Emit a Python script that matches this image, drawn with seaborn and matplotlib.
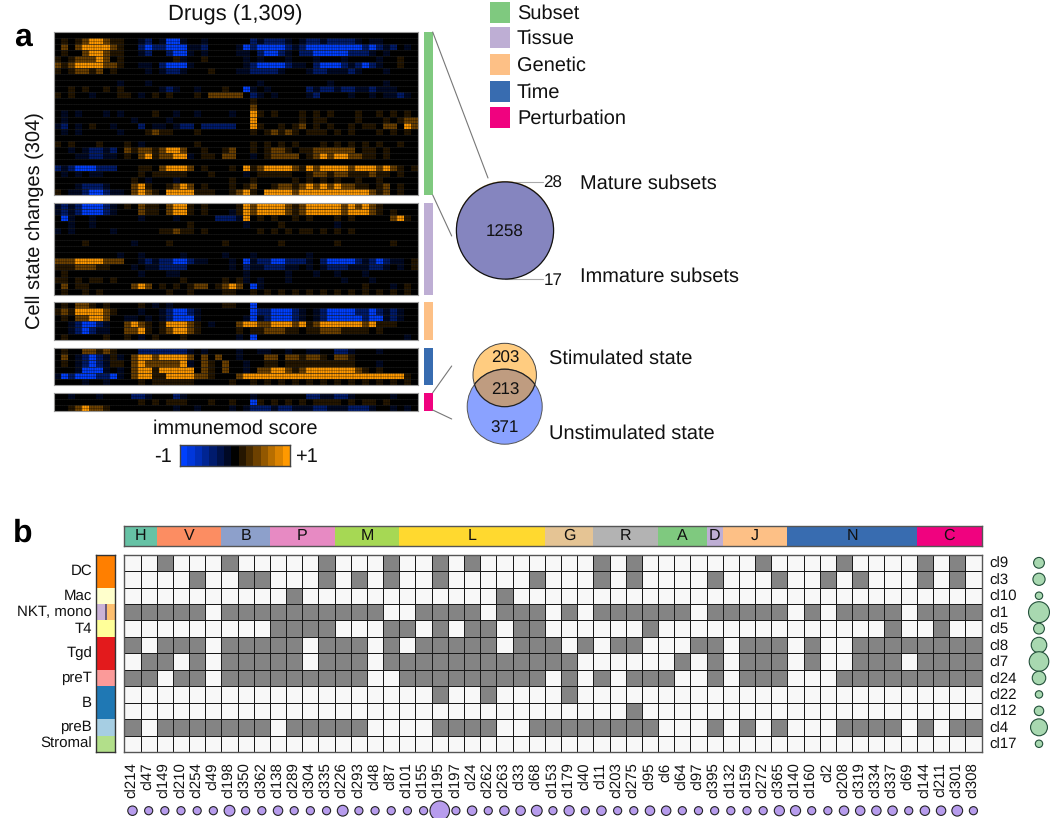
import numpy as np
import pandas as pd
import seaborn as sns
import matplotlib.pyplot as plt
from matplotlib.colors import ListedColormap
from matplotlib.patches import Circle, Rectangle

W, H = 1050, 818

# ---- panel a: coarse reading of the immunemod scores, one string per row
# B/b/n = strong/mid/faint negative, O/o/r = strong/mid/faint positive
score_codes = {'B': -0.9, 'b': -0.45, 'n': -0.16, '.': 0.0, 'r': 0.16, 'o': 0.45, 'O': 0.88}

subset_rows = [
    "....................................................",
    ".r.roOOorr..nb.nBBn..n......bnbbbn.nbbnbbbbn.nn.....",
    ".o.oOOOOor..bBbbBBBnnb....nBbBBBBbnbBBBBBBBBbBbnb.n.",
    ".r..oOOorr..nb..bBBn.n....nn.bBBbn.bbBBBBBbbbn.n....",
    "r.roooOo.r.......rn..r.....n.n...n...n...n....n..r..",
    "oroOOOOoor..nn.bBBBn.......nbBBBBbnn.bBBBbnbBbn..r..",
    "r.rooro.r....n.nbbn...r...nnbbbbn...nbbnnnbn...n....",
    "....................................................",
    ".........n...n...............n.........n.......n....",
    "..r.r..r.r.....nbn..n...r..Bn.n.....bnbbnbbnnbnnn...",
    "r.r..n...rr.n.r.r...r.ooooo.bn.n....nb....n..n.nnbn.",
    "............................r.......................",
    "............................o.......................",
    ".n.n...n.n....r..n..n....n..Or.r...r.r.r...r..r.r.r.",
    ".n.........n....n...........O......r.rr....r...r.roo",
    "nb.n.r..n...b.nn.nbb.bbbbb..Or..r.ro.r.r..r.rr.oo.Oo",
    ".n.n.....n...rorr...r.......r.roror.rrr.r.r...r.r.r.",
    "....................................................",
    "r.r...r...r.n.......r.......r.r.r.r...r.r.r.r.r..r..",
    "..n.nbbnb.orooroOOo..r..ro..r.roor.rroooooo.rr.r....",
    "...nnbbnn.r.oOrooOOn.rr.oo..n.roooo.roOoOOoorr.r....",
    "....................................................",
    "bnbBBBbbb...rr.oOOOo.r...r.OroOOOOorOoOOOOoOOOoOor.r",
    ".n.n.nn.....r.rrrrr...r....n.rrrrr..rooroorrrorr.r..",
    "...........r.n...n.......r..r.....r.r.r.r..r..r.....",
    "...nbbbn...oOr..roOo.r...r.ro..rooroOoOoOoorr.ro.r..",
    "r.nnbBBbnn.oOor.OOOOrrr..roOr.OOOOoOOOOOOOOOOoro.r..",
]
tissue_rows = [
    "nbnbBBBbn.r.orr.oOOr.r....rOoOOOOoroOOOOOoOoOor.....",
    "nbnbBBBbn...orr.oOOr.r...nrOoOOOOoroOOOOOoOOOor.r...",
    ".Bn..n......n....n.....bbbnO.r.r..r.r...r.r.....oOr.",
    "..n..n.............r.......n....r.......n...........",
    "n.n.....n......rrorr.r.......r.r.r.rr.r.r.r.........",
    "....................................................",
    "....r......n....r.......r.......r.......r.......r...",
    "....................................................",
    ".........n..n.....n.....n...n.......n...............",
    "oooOOOOooo..nbnbbBBbnn...n.BnbbBBbbbn.bBBBBbnbBbnn.r",
    "rrrooorr...n.nnbbbb......n.bnnbbbnn.n.nbbbnnnbbn.n.r",
    ".r..........n...nn.........n.....n...n..n...n.......",
    "rr.r.rr.r.........r.....r.rn.n...n.......n...n......",
    ".o.rr......oOo.r.r.roo.roOo.Bn..............r...n.r.",
    ".r..r.r.........r..r....rr..r.r.r.r.r.r.r.r.r.r.r.r.",
]
genetic_rows = [
    ".r.oor.r....r.n.n.......rr..B.......................",
    "rorOOOOor...n..nbBBbn.......BbbBBBbn.nbBBBBbbBbnbn..",
    ".r.ooOOo..nn.n.nbBBBn......nBnbBBBbn.nbBBBBBbBBnbn..",
    "..nbBBbn..oOor.rOOOor.n...oOOooOOOoOroOOOOOOoOrrr...",
    "..nbBbnn..ooOr.roOOor.....r.rrooorr.rrooorrrr.r.....",
    ".r.....r..r.n.r...r.......n.B.....................n.",
]
time_rows = [
    ".r..ooror...bbbbbbbn.n....n..nn..n..nn..bbn...n.....",
    ".o.nbBbnrn.oOOoOOOOo.o.o..n...oo.ooroor.oor.........",
    ".r.nbBbnrr.oOoooooOn.or.o..n..rr.rrrrrrrrrr...n.....",
    "...nBBBn.n.oOOrOOOOO.or.o..n.ooOOoroOOOOOOOor.r.....",
    "nBbBBBbbBn.oOOrrOOOOoor...oOOOOOOOOOOOOOOOOOOOOOOOr.",
    "....n..n....r.rrrrrr.....r..r.r.r.r.r.r.r.r.r.r.r.r.",
]
perturbation_rows = [
    "..n...n....bbn...bn.........n.......bbnnbbn.....n...",
    "............r.r.rrr...r..r..Br.r.r.r.rrrr.r.rr.r....",
    "..roOoor.........n..n....n.nbbbnbbnnnbbnnnbbbn..n.n.",
]

heat_groups = ['Subset', 'Tissue', 'Genetic', 'Time', 'Perturbation']
group_colors = ['#7FC97F', '#BEAED4', '#FDC086', '#386CB0', '#F0027F']

# ---- panel b
cluster_rows = ['cl9', 'cl3', 'cl10', 'cl1', 'cl5', 'cl8', 'cl7', 'cl24', 'cl22', 'cl12', 'cl4', 'cl17']
cluster_cols = ['cl214', 'cl47', 'cl149', 'cl210', 'cl254', 'cl49', 'cl198', 'cl350', 'cl362', 'cl138',
                'cl289', 'cl304', 'cl335', 'cl226', 'cl293', 'cl48', 'cl87', 'cl101', 'cl155', 'cl195',
                'cl197', 'cl24', 'cl262', 'cl263', 'cl33', 'cl68', 'cl153', 'cl179', 'cl40', 'cl11',
                'cl203', 'cl275', 'cl95', 'cl6', 'cl64', 'cl97', 'cl395', 'cl132', 'cl159', 'cl272',
                'cl365', 'cl140', 'cl160', 'cl2', 'cl208', 'cl319', 'cl334', 'cl337', 'cl69', 'cl144',
                'cl211', 'cl301', 'cl308']

# filled columns of the sparse rows
filled_cols = {
    'cl9': [2, 6, 12, 16, 19, 21, 29, 31, 39, 44, 49, 51],
    'cl3': [4, 7, 8, 12, 14, 16, 19, 25, 29, 31, 36, 40, 43, 45, 49, 51],
    'cl10': [10, 23],
    'cl5': [9, 10, 11, 12, 16, 17, 19, 21, 22, 24, 25, 32, 47, 50],
    'cl22': [19, 22, 27],
    'cl12': [31],
    'cl17': [],
}
# empty columns of the dense rows
empty_cols = {
    'cl1': [5, 16, 17, 22, 26, 28, 35, 41, 43, 48],
    'cl8': [1, 5, 11, 15, 17, 23, 27, 29, 32, 33, 34, 37, 41, 43, 44],
    'cl7': [0, 3, 5, 11, 15, 28, 29, 30, 31, 32, 33, 35, 37, 41, 43, 44, 48],
    'cl24': [2, 5, 15, 16, 26, 28, 30, 34, 35, 37, 41, 42, 43],
    'cl4': [1, 9, 15, 16, 17, 18, 23, 24, 33, 34, 35, 37, 39, 41, 42, 43, 48, 50],
}

col_group_names = ['H', 'V', 'B', 'P', 'M', 'L', 'G', 'R', 'A', 'D', 'J', 'N', 'C']
col_group_counts = [2, 4, 3, 4, 4, 9, 3, 4, 3, 1, 4, 8, 4]
col_group_colors = ['#66C2A5', '#FC8D62', '#8DA0CB', '#E78AC3', '#A6D854', '#FFD92F', '#E5C494',
                    '#B3B3B3', '#7FC97F', '#BEAED4', '#FDC086', '#386CB0', '#F0027F']

cell_names = ['DC', 'Mac', 'NKT, mono', 'T4', 'Tgd', 'preT', 'B', 'preB', 'Stromal']
cell_rows = [2, 1, 1, 1, 2, 1, 2, 1, 1]
cell_colors = ['#FF7F00', '#FFFFCC', '#CAB2D6', '#FFFF99', '#E31A1C', '#FB9A99', '#1F78B4', '#A6CEE3', '#B2DF8A']

col_sizes = [78, 58, 58, 58, 58, 58, 102, 58, 58, 78, 58, 58, 58, 102, 58, 58, 58, 58, 58, 336, 58, 78, 58,
             78, 78, 102, 58, 90, 58, 78, 58, 58, 78, 78, 58, 58, 58, 58, 58, 58, 90, 90, 58, 58, 78, 78, 78,
             78, 58, 78, 78, 102, 58]
row_sizes = [102, 130, 48, 384, 102, 212, 336, 160, 48, 78, 250, 48]

sns.set_theme(style='white')
plt.rcParams['font.family'] = ['Liberation Sans', 'DejaVu Sans']
plt.rcParams['axes.linewidth'] = 1.0
plt.rcParams['text.hinting'] = 'none'
plt.rcParams['text.hinting_factor'] = 1

fig = plt.figure(figsize=(W / 100, H / 100), dpi=100)


def px_axes(x0, y0, x1, y1, **kw):
    # axes placed from pixel corners of the reference
    return fig.add_axes([x0 / W, 1 - y1 / H, (x1 - x0) / W, (y1 - y0) / H], **kw)


score_cmap = ListedColormap(sns.blend_palette(['#0040ff', '#000000', '#ff9900'], 15))

# heatmap blocks + side strips
heat_panels = [subset_rows, tissue_rows, genetic_rows, time_rows, perturbation_rows]
heat_spans = [(32, 195), (203, 295), (302, 340), (348, 385), (393, 411)]
for rows, (y0, y1), color in zip(heat_panels, heat_spans, group_colors):
    mat = np.array([[score_codes[c] for c in r.ljust(52, '.')[:52]] for r in rows])
    ax = px_axes(54, y0, 418, y1)
    sns.heatmap(mat, ax=ax, cmap=score_cmap, vmin=-1, vmax=1, cbar=False,
                xticklabels=False, yticklabels=False, rasterized=True)
    # fine mesh of the original matrix
    ax.hlines(np.arange(0, len(rows), 0.5), 0, 52, color='#000000', lw=0.6, alpha=0.3)
    ax.hlines(np.arange(1, len(rows)), 0, 52, color='#262626', lw=0.5, alpha=0.7)
    ax.vlines(np.arange(0, 52, 0.25), 0, len(rows), color='#000000', lw=0.5, alpha=0.25)
    for s in ax.spines.values():
        s.set_visible(True)
        s.set_color('#999999')
        s.set_linewidth(0.8)
    strip = px_axes(424, y0, 433, y1)
    strip.set_facecolor(color)
    strip.set_xticks([])
    strip.set_yticks([])
    for s in strip.spines.values():
        s.set_visible(False)

# colour key
cbar_ax = px_axes(180, 445, 290, 466)
sns.heatmap(np.linspace(-1, 1, 15).reshape(1, -1), ax=cbar_ax, cmap=score_cmap, vmin=-1, vmax=1,
            cbar=False, xticklabels=False, yticklabels=False)
for s in cbar_ax.spines.values():
    s.set_visible(True)
    s.set_color('#444444')

# membership matrix
membership = np.zeros((len(cluster_rows), len(cluster_cols)), dtype=int)
for i, name in enumerate(cluster_rows):
    if name in filled_cols:
        membership[i, filled_cols[name]] = 1
    else:
        membership[i, :] = 1
        membership[i, empty_cols[name]] = 0
df_member = pd.DataFrame(membership, index=cluster_rows, columns=cluster_cols)

ax_m = px_axes(124.4, 554.6, 981.5, 752)
sns.heatmap(df_member, ax=ax_m, cmap=ListedColormap(['#f8f8f8', '#848484']), vmin=0, vmax=1, cbar=False,
            linewidths=0.72, linecolor='#1a1a1a', xticklabels=False, yticklabels=True)
ax_m.yaxis.tick_right()
ax_m.tick_params(axis='y', length=0, pad=6, labelsize=11, labelrotation=0, colors='#111111', right=False)
# column names hang from the matrix, top aligned
for pos, name in enumerate(cluster_cols):
    ax_m.annotate(name, (pos + 0.5, len(cluster_rows)), xytext=(0, -7.5), textcoords='offset points',
                  rotation=90, ha='center', va='top', fontsize=11, color='#111111', annotation_clip=False)
for s in ax_m.spines.values():
    s.set_visible(True)
    s.set_color('#555555')

# column group strip
ax_top = px_axes(124.4, 526, 981.5, 545.5)
group_idx = np.repeat(np.arange(len(col_group_names)), col_group_counts).reshape(1, -1)
sns.heatmap(group_idx, ax=ax_top, cmap=ListedColormap(col_group_colors), cbar=False,
            xticklabels=False, yticklabels=False)
group_mid = np.cumsum(col_group_counts) - np.array(col_group_counts) / 2
for name, mid in zip(col_group_names, group_mid):
    ax_top.text(mid, 0.52, name, fontsize=11.5, ha='center', va='center', color='#111111')
for s in ax_top.spines.values():
    s.set_visible(True)
    s.set_color('#555555')

# row group strip, NKT row is split in three
ax_left = px_axes(96.3, 554.6, 115.5, 752)
left_idx = np.repeat(np.arange(len(cell_names)), cell_rows)
left_mat = np.tile(left_idx, (9, 1)).T.astype(float)
left_colors = cell_colors + ['#6B5B7B', '#FDBF6F']
left_mat[3, 4] = 9
left_mat[3, 5:] = 10
sns.heatmap(left_mat, ax=ax_left, cmap=ListedColormap(left_colors), cbar=False, xticklabels=False)
ax_left.set_yticks(np.cumsum(cell_rows) - np.array(cell_rows) / 2)
ax_left.set_yticklabels(cell_names, fontsize=11, rotation=0, color='#111111')
ax_left.tick_params(axis='y', length=0, pad=3)
for s in ax_left.spines.values():
    s.set_visible(True)
    s.set_color('#333333')

# bubbles under and beside the matrix
ax_d = px_axes(124.4, 803, 981.5, 818.4)
df_col = pd.DataFrame({'pos': np.arange(len(cluster_cols)) + 0.5, 'y': 0.0, 'size': col_sizes})
sns.scatterplot(data=df_col, x='pos', y='y', size='size', sizes=(0, 236.7), size_norm=(0, 400), ax=ax_d,
                color='#B79CED', edgecolor='#222222', linewidth=0.8, legend=False, clip_on=False, zorder=3)
ax_d.set_xlim(0, len(cluster_cols))
ax_d.set_ylim(-1, 1)
ax_d.axis('off')

ax_r = px_axes(1020, 554.6, 1050, 752)
df_row = pd.DataFrame({'x': 0.0, 'pos': np.arange(len(cluster_rows)) + 0.5, 'size': row_sizes})
sns.scatterplot(data=df_row, x='x', y='pos', size='size', sizes=(0, 236.7), size_norm=(0, 400), ax=ax_r,
                color='#A8D8B0', edgecolor='#23503a', linewidth=0.8, legend=False, clip_on=False, zorder=3)
ax_r.set_xlim(-19, 11)
ax_r.set_ylim(len(cluster_rows), 0)
ax_r.axis('off')

# overlay in pixel coordinates for annotations, legend and venns
ov = fig.add_axes([0, 0, 1, 1], zorder=5)
ov.set_xlim(0, W)
ov.set_ylim(H, 0)
ov.axis('off')
ov.patch.set_alpha(0)

ov.text(235, 14.5, 'Drugs (1,309)', fontsize=15.6, ha='center', va='center', color='#111111')
ov.text(35, 221, 'Cell state changes (304)', fontsize=14.7, rotation=90, ha='center', va='center', color='#111111')
ov.text(23, 37, 'a', fontsize=23, fontweight='bold', ha='center', va='center', color='black')
ov.text(23, 533, 'b', fontsize=23, fontweight='bold', ha='center', va='center', color='black')
ov.text(235, 429, 'immunemod score', fontsize=14.4, ha='center', va='center', color='#111111')
ov.text(163, 457, '-1', fontsize=14.4, ha='center', va='center', color='#111111')
ov.text(306, 457, '+1', fontsize=14.4, ha='center', va='center', color='#111111')

# legend
legend_tops = [2, 27, 54, 81, 107]
for name, color, top in zip(heat_groups, group_colors, legend_tops):
    ov.add_patch(Rectangle((489.5, top), 20.5, 20.5, facecolor=color, edgecolor='none'))
    ov.text(517, top + 12, name, fontsize=14.5, ha='left', va='center', color='#111111')

# leader lines
leaders = [((432.7, 32), (488, 178)), ((432.7, 195), (451.7, 236)),
           ((432.7, 392.7), (451.7, 366)), ((432.7, 410), (451.7, 419))]
for p, q in leaders:
    ov.plot([p[0], q[0]], [p[1], q[1]], color='#777777', lw=0.8)
for y in (181.7, 279.3):
    ov.plot([505, 542.7], [y, y], color='#aaaaaa', lw=0.8, zorder=1)

# mature / immature venn
ov.add_patch(Circle((505, 230), 49, facecolor='#C9A66B', edgecolor='none', zorder=2))
ov.add_patch(Circle((505, 230.5), 48.6, facecolor='#8585BF', edgecolor='#111111', lw=0.9, zorder=3))
ov.text(505, 232, '1258', fontsize=12.2, ha='center', va='center', color='#111111', zorder=4)
ov.text(553, 183.5, '28', fontsize=12.2, ha='center', va='center', color='#111111')
ov.text(553, 281, '17', fontsize=12.2, ha='center', va='center', color='#111111')
ov.text(580, 184, 'Mature subsets', fontsize=14.6, ha='left', va='center', color='#111111')
ov.text(580, 277, 'Immature subsets', fontsize=14.6, ha='left', va='center', color='#111111')

# stimulated / unstimulated venn
stim = Circle((504.7, 375), 31.7, facecolor='#FFCC80', edgecolor='#444444', lw=0.7, zorder=2)
unstim = Circle((504.7, 406.7), 37.5, facecolor='#8AA2FF', edgecolor='#555555', lw=0.7, zorder=3)
overlap = Circle((504.7, 375), 31.7, facecolor='#BF9C80', edgecolor='#222222', lw=0.9, zorder=4)
ov.add_patch(stim)
ov.add_patch(unstim)
ov.add_patch(overlap)
clip = Circle((504.7, 406.7), 37.5, transform=ov.transData)
overlap.set_clip_path(clip)
arc = Circle((504.7, 406.7), 37.5, facecolor='none', edgecolor='#222222', lw=0.9, zorder=5)
ov.add_patch(arc)
arc.set_clip_path(Circle((504.7, 375), 31.7, transform=ov.transData))
ov.text(505, 358, '203', fontsize=12.6, ha='center', va='center', color='#111111', zorder=6)
ov.text(505, 390, '213', fontsize=12.6, ha='center', va='center', color='#111111', zorder=6)
ov.text(505, 428, '371', fontsize=12.6, ha='center', va='center', color='#111111', zorder=6)
ov.text(549, 359, 'Stimulated state', fontsize=14.6, ha='left', va='center', color='#111111')
ov.text(549, 434, 'Unstimulated state', fontsize=14.6, ha='left', va='center', color='#111111')

fig.savefig('out.png', dpi=100)
plt.close(fig)
